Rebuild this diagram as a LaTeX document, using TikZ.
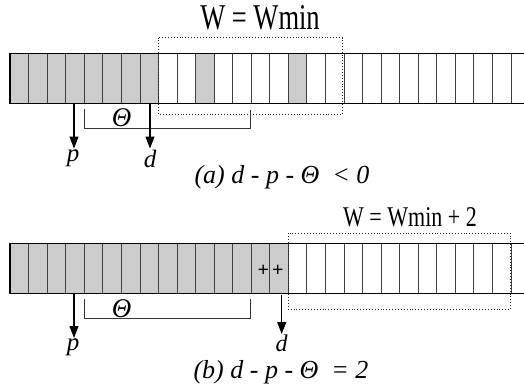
\documentclass[tikz,border=0pt]{standalone}
\usepackage{fontspec}
\setmainfont{Liberation Serif}
\usetikzlibrary{arrows.meta}
\begin{document}
\begin{tikzpicture}[x=1pt,y=-1pt,
  gridline/.style={draw=black!75, line width=0.7pt},
  grayfill/.style={fill=gray!40},
  frame/.style={draw=black, line width=1.4pt},
  win/.style={draw=black!85, dotted, line width=0.9pt},
  brk/.style={draw=black!80, line width=0.9pt},
  ptr/.style={draw=black, line width=1.1pt, -{Triangle[length=12pt,width=9pt]}, shorten >=1pt},
  lbl/.style={font=\fontsize{25}{28}\selectfont\itshape, inner sep=0pt},
  captext/.style={font=\fontsize{26}{30}\selectfont\itshape, inner sep=0pt},
  ttl/.style={inner sep=0pt},
]
\useasboundingbox (0,0) rectangle (524,388);
\begin{scope}
\clip (0,0) rectangle (524,388);
% ---- top strip ----
\foreach \i in {0,...,7,10,15}
  \fill[grayfill] ({10+\i*18.55},53.5) rectangle ++(18.55,50);
\foreach \i in {1,...,28}
  \draw[gridline] ({10+\i*18.55},53.5) -- ++(0,50);
\draw[frame] (540,53.5) -- (10,53.5) -- (10,103.5) -- (540,103.5);
% ---- bottom strip ----
\foreach \i in {0,...,14}
  \fill[grayfill] ({10+\i*18.55},243.5) rectangle ++(18.55,50);
\foreach \i in {1,...,28}
  \draw[gridline] ({10+\i*18.55},243.5) -- ++(0,50);
\draw[frame] (540,243.5) -- (10,243.5) -- (10,293.5) -- (540,293.5);
\end{scope}

% ---- top part ----
\node[ttl, anchor=base] (t1) at (260,29.3) {\scalebox{1}[1.37]{\fontsize{26.5}{30}\selectfont W = Wmin}};
\draw[win] (158.4,37.5) rectangle (342.3,114);
\draw[brk] (84,109) -- (84,128) -- (250.7,128) -- (250.7,110);
\node[lbl] (th1) at (121.7,117.5) {\fontsize{27}{30}\selectfont Θ};
\coordinate (p1s) at (74,103.5);
\coordinate (d1s) at (150,103.5);
\node[lbl, anchor=north] (p1) at (73,149.5) {p};
\node[lbl, anchor=north] (d1) at (150,149.5) {d};
\draw[ptr] (p1s) -- (p1.north -| p1s);
\draw[ptr] (d1s) -- (d1.north -| d1s);
\node[captext] (c1) at (282,177) {(a) d - p - Θ\ \ < 0};

% ---- bottom part ----
\node[ttl, anchor=base] (t2) at (410,226) {\scalebox{1}[1.3]{\fontsize{22}{25}\selectfont W = Wmin + 2}};
\draw[win] (288.3,233.3) rectangle (510.6,309.3);
\node[inner sep=0pt, font=\fontsize{20}{22}\selectfont\bfseries] (pp) at (270.5,271) {+\kern3pt+};
\draw[brk] (84,299) -- (84,318.3) -- (250.7,318.3) -- (250.7,299);
\node[lbl] (th2) at (121.7,309) {\fontsize{27}{30}\selectfont Θ};
\coordinate (p2s) at (74,293.5);
\coordinate (d2s) at (281.7,294.5);
\node[lbl, anchor=north] (p2) at (73,339) {p};
\node[lbl, anchor=north, font=\fontsize{24}{28}\selectfont\itshape] (d2) at (281.7,335) {d};
\draw[ptr] (p2s) -- (p2.north -| p2s);
\draw[ptr] (d2s) -- (d2.north -| d2s);
\node[captext] (c2) at (281,372) {(b) d - p - Θ\ \ = 2};
\end{tikzpicture}
\end{document}
